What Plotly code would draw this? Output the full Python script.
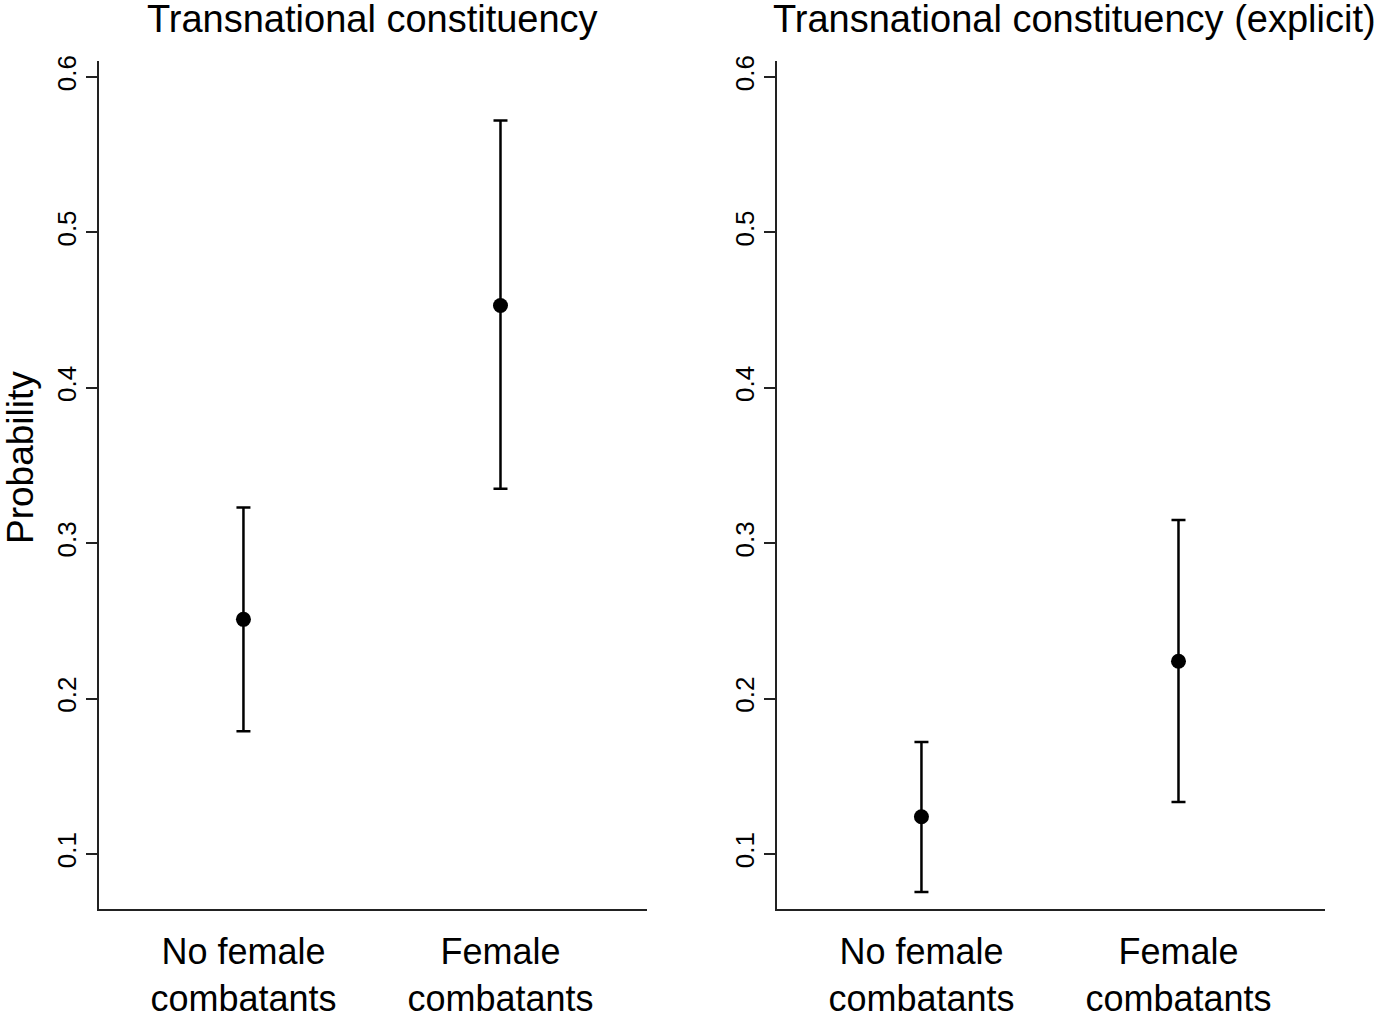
import plotly.graph_objects as go

# ---- data ----
categories = ["No female<br>combatants", "Female<br>combatants"]
cat_pos = [0, 1]

panel_titles = ["Transnational constituency", "Transnational constituency (explicit)"]

est_left = [0.251, 0.453]
lower_left = [0.179, 0.335]
upper_left = [0.323, 0.572]

est_right = [0.124, 0.224]
lower_right = [0.0755, 0.1335]
upper_right = [0.172, 0.315]

y_ticks = [0.1, 0.2, 0.3, 0.4, 0.5, 0.6]
y_title = "Probability"

FONT = "Liberation Sans, Arial, Helvetica, sans-serif"
W, H = 1374, 1014
ML, MR, MT, MB = 99, 49, 61, 105
PW = W - ML - MR
PH = H - MT - MB


def px_x(p):
    return (p - ML) / PW


def px_y(p):
    return (H - MB - p) / PH


fig = go.Figure()

panels = [
    (est_left, lower_left, upper_left, "x", "y"),
    (est_right, lower_right, upper_right, "x2", "y2"),
]
for est, lo, up, xa, ya in panels:
    fig.add_trace(go.Scatter(
        x=cat_pos, y=est, xaxis=xa, yaxis=ya, mode="markers",
        marker=dict(color="black", size=15),
        error_y=dict(type="data", symmetric=False,
                     array=[u - e for u, e in zip(up, est)],
                     arrayminus=[e - l for e, l in zip(est, lo)],
                     color="black", thickness=2.5, width=7),
        showlegend=False, hoverinfo="skip",
    ))

xr = [-0.562, 1.570]
yr = [0.0646, 0.6103]

xcommon = dict(range=xr, tickvals=cat_pos, ticktext=categories, ticks="",
               showline=True, linecolor="#222", linewidth=2, showgrid=False,
               zeroline=False, tickfont=dict(family=FONT, size=36, color="black"),
               ticklabelstandoff=10, automargin=False, fixedrange=True)
ycommon = dict(range=yr, tickvals=y_ticks, tickformat=".1f", ticks="outside",
               ticklen=11, tickwidth=2, tickcolor="#222", tickangle=-90,
               showline=True, linecolor="#222", linewidth=2, showgrid=False,
               zeroline=False, tickfont=dict(family=FONT, size=26, color="black"),
               automargin=False, fixedrange=True)

fig.update_layout(
    width=W, height=H,
    margin=dict(l=ML, r=MR, t=MT, b=MB, autoexpand=False),
    paper_bgcolor="white", plot_bgcolor="white",
    xaxis=dict(domain=[0, px_x(647)], anchor="y", **xcommon),
    xaxis2=dict(domain=[px_x(777), 1], anchor="y2", **xcommon),
    yaxis=dict(domain=[0, 1], anchor="x", **ycommon),
    yaxis2=dict(domain=[0, 1], anchor="x2", **ycommon),
    font=dict(family=FONT, color="black"),
)

fig.add_annotation(text=panel_titles[0], xref="paper", yref="paper",
                   x=px_x(372), y=px_y(19), xanchor="center", yanchor="middle",
                   showarrow=False, font=dict(family=FONT, size=38, color="black"))
fig.add_annotation(text=panel_titles[1], xref="paper", yref="paper",
                   x=px_x(1074), y=px_y(19), xanchor="center", yanchor="middle",
                   showarrow=False, font=dict(family=FONT, size=38, color="black"))
fig.add_annotation(text=y_title, xref="paper", yref="paper",
                   x=px_x(20), y=px_y(458), xanchor="center", yanchor="middle",
                   textangle=-90, showarrow=False,
                   font=dict(family=FONT, size=37, color="black"))

fig.write_html("out.html", config={"displayModeBar": False},
               post_script="document.body.style.margin='0';document.body.style.overflow='hidden';")
